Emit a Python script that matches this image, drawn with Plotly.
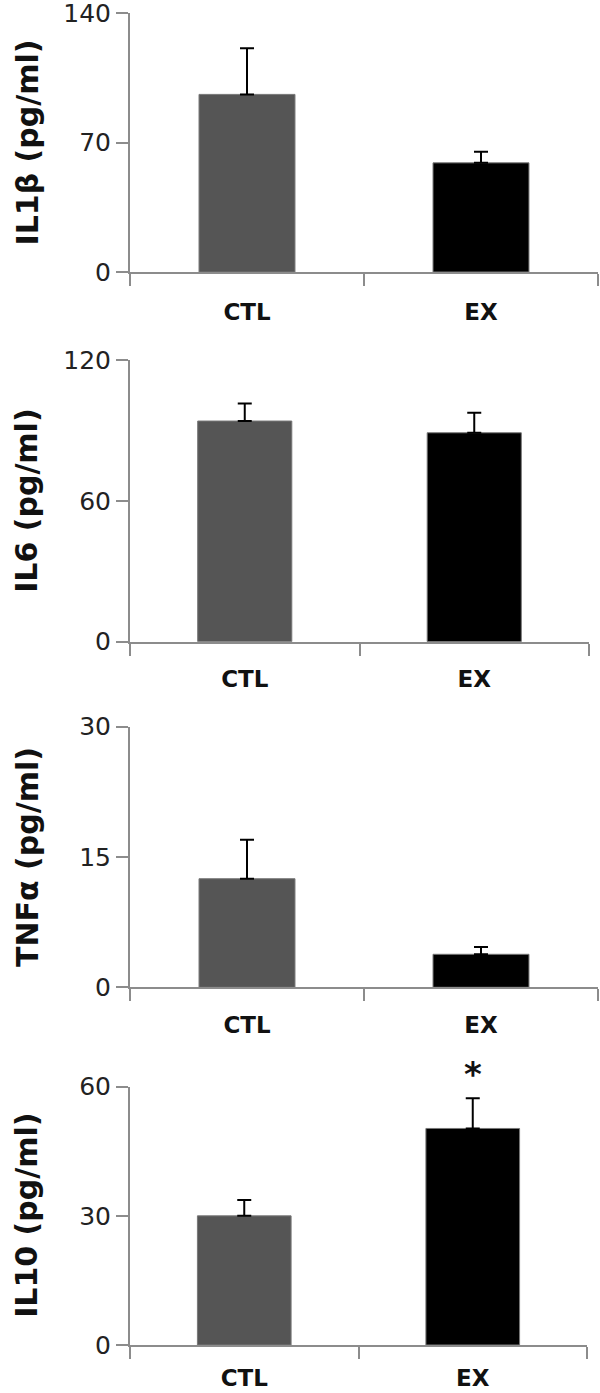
import plotly.graph_objects as go

W, H = 600, 1393

categories = ["CTL", "EX"]
bar_colors = ["#555555", "#000000"]

panel_titles = ["IL1β (pg/ml)", "IL6 (pg/ml)", "TNFα (pg/ml)", "IL10 (pg/ml)"]
means_il1b = [96, 59]
errs_il1b = [25, 6]
means_il6 = [94, 89]
errs_il6 = [7.5, 8.5]
means_tnfa = [12.5, 3.8]
errs_tnfa = [4.5, 0.85]
means_il10 = [30, 50.3]
errs_il10 = [3.7, 7]
y_max = [140, 120, 30, 60]
y_ticks = [[0, 70, 140], [0, 60, 120], [0, 15, 30], [0, 30, 60]]
significance = ["", "", "", "*"]  # marker over EX bar

means = [means_il1b, means_il6, means_tnfa, means_il10]
errs = [errs_il1b, errs_il6, errs_tnfa, errs_il10]

# page-pixel layout of each panel: (x_left, x_right, y_top, y_bottom)
panels_px = [
    (130, 598, 13, 272),
    (130, 589, 360, 641.7),
    (130, 598, 726.7, 987.3),
    (130, 587, 1086.7, 1345),
]
label_standoff = [18, 16, 16, 11]

fig = go.Figure()
axis_grey = "#8c8c8c"
annotations = []
for i in range(4):
    xl, xr, yt, yb = panels_px[i]
    xa = "x" if i == 0 else f"x{i+1}"
    ya = "y" if i == 0 else f"y{i+1}"
    fig.add_trace(go.Bar(
        x=categories, y=means[i],
        marker=dict(color=bar_colors, line=dict(color="#777777", width=1)),
        error_y=dict(type="data", array=errs[i], arrayminus=[0, 0], symmetric=False,
                     color="#000000", thickness=2, width=7),
        xaxis=xa, yaxis=ya, width=0.41, showlegend=False,
    ))
    xkey = "xaxis" if i == 0 else f"xaxis{i+1}"
    ykey = "yaxis" if i == 0 else f"yaxis{i+1}"
    fig.update_layout({
        xkey: dict(domain=[xl / W, xr / W], anchor=ya, type="category", automargin=False,
                   showline=True, linecolor=axis_grey, linewidth=2,
                   ticks="outside", tickson="boundaries", ticklen=12, tickwidth=2,
                   tickcolor=axis_grey, showgrid=False, zeroline=False,
                   tickfont=dict(family="DejaVu Sans", size=23, color="#111111", weight="bold"),
                   ticklabelstandoff=label_standoff[i]),
        ykey: dict(domain=[1 - yb / H, 1 - yt / H], anchor=xa, range=[0, y_max[i]],
                   automargin=False, ticklabeloverflow="allow",
                   tickvals=y_ticks[i], showline=True, linecolor=axis_grey, linewidth=2,
                   ticks="outside", ticklen=12, tickwidth=2, tickcolor=axis_grey,
                   showgrid=False, zeroline=False,
                   tickfont=dict(family="DejaVu Sans", size=25, color="#222222")),
    })
    annotations.append(dict(
        text=panel_titles[i], textangle=-90, xref="paper", yref="paper",
        x=27 / W, y=1 - (yt + yb) / 2 / H, xanchor="center", yanchor="middle",
        showarrow=False,
        font=dict(family="DejaVu Sans", size=30, color="#111111", weight="bold"),
    ))
    if significance[i]:
        annotations.append(dict(
            text=significance[i], xref=xa, yref=ya, x=categories[1],
            y=means[i][1] + errs[i][1], yshift=2, yanchor="bottom",
            showarrow=False, font=dict(family="DejaVu Sans", size=34, color="#111111",
                                       weight="bold"),
        ))

fig.update_layout(
    width=W, height=H, margin=dict(l=0, r=0, t=0, b=0),
    plot_bgcolor="white", paper_bgcolor="white",
    bargap=0.59, annotations=annotations,
)
fig.write_html("out.html", config={"displayModeBar": False},
               post_script="document.body.style.margin='0px';")
